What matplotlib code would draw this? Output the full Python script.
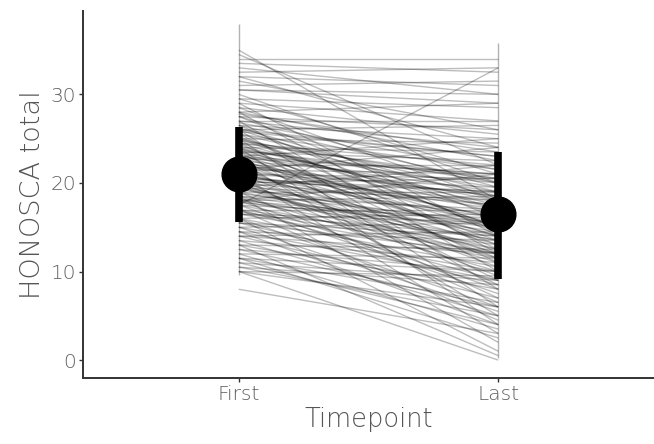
import matplotlib
matplotlib.use("Agg")
import matplotlib.pyplot as plt
import numpy as np

plt.rcParams['font.family'] = ['DejaVu Sans']

timepoints = ["First", "Last"]

first_scores = [
    35.0, 34.5, 34.0, 33.5, 33.0,
    32.5, 32.0, 31.5, 31.0, 30.5, 30.0, 32.0, 30.5,
    29.5, 29.5, 29.0, 29.0, 28.5, 28.5, 28.0, 28.0, 28.0, 27.5, 27.5, 27.5, 27.0, 27.0, 27.0,
    26.5, 26.5, 26.5, 26.0, 26.0, 26.0, 26.0, 25.5, 25.5, 25.5, 25.0, 25.0, 25.0, 25.0,
    24.5, 24.5, 24.5, 24.5, 24.0, 24.0, 24.0, 24.0,
    23.5, 23.5, 23.5, 23.5, 23.0, 23.0, 23.0, 23.0, 22.5, 22.5, 22.5, 22.5, 22.0, 22.0, 22.0, 22.0,
    21.5, 21.5, 21.5, 21.5, 21.0, 21.0, 21.0, 21.0, 21.0,
    20.5, 20.5, 20.5, 20.5, 20.0, 20.0, 20.0, 20.0, 19.5, 19.5, 19.5, 19.5, 19.0, 19.0, 19.0,
    18.5, 18.5, 18.5, 18.5, 18.0, 18.0, 18.0, 18.0, 17.5, 18.0,
    17.5, 17.5, 17.5, 17.0, 17.0, 17.0, 17.0, 16.5, 16.5, 16.5, 16.0, 16.0, 16.0, 16.0,
    15.5, 15.5, 15.5, 15.0, 15.0, 15.0,
    14.5, 14.5, 14.5, 14.0, 14.0, 14.0, 13.5, 13.5, 13.0, 13.0, 13.0, 12.5, 12.5, 12.0, 12.0,
    11.5, 11.5, 11.5, 11.0, 11.0, 10.5, 10.5, 10.0, 10.0, 10.0,
    8.0,
    26.8, 26.2, 25.8, 25.2, 24.8, 24.2, 23.8, 23.2, 22.8, 22.2,
    21.8, 21.2, 20.8, 20.2, 19.8, 19.2, 18.8, 18.2, 27.8, 23.6,
    22.6, 20.6, 19.6, 17.8, 16.8,
]

last_scores = [
    18.0, 22.0, 34.0, 32.5, 30.0,
    33.0, 31.0, 26.0, 31.5, 29.0, 20.0, 24.0, 30.0,
    28.5, 21.0, 27.0, 14.0, 25.5, 18.0, 29.0, 22.5, 12.0, 26.0, 19.5, 16.0, 24.0, 10.0, 27.0,
    25.0, 20.0, 14.5, 23.0, 17.0, 8.0, 26.5, 21.5, 19.0, 12.5, 24.5, 18.5, 15.0, 6.0,
    22.0, 20.5, 11.0, 16.5, 23.5, 17.5, 13.0, 4.0,
    22.5, 18.0, 15.0, 9.0, 21.0, 19.0, 13.5, 25.0, 20.0, 16.0, 11.5, 5.0, 22.0, 18.5, 14.0, 8.5,
    21.0, 17.0, 12.0, 24.0, 19.5, 15.5, 10.5, 3.0, 20.5,
    19.0, 16.0, 12.0, 7.0, 20.5, 17.5, 14.0, 9.5, 18.0, 15.0, 11.0, 22.0, 19.0, 13.5, 6.5,
    17.0, 14.5, 10.0, 2.0, 18.5, 15.5, 12.5, 8.0, 33.0, 21.0,
    16.0, 12.0, 7.5, 17.0, 13.0, 9.0, 4.5, 15.5, 11.5, 14.0, 16.5, 10.5, 6.0, 1.0,
    14.0, 12.0, 8.5, 15.5, 10.0, 5.5,
    13.5, 9.0, 4.0, 12.0, 7.0, 14.5, 11.0, 5.0, 12.5, 8.0, 0.5, 10.0, 6.0, 11.5, 3.5,
    10.0, 6.5, 2.5, 9.0, 4.0, 8.5, 5.0, 9.5, 6.0, 0.0,
    3.0,
    21.5, 18.0, 23.0, 15.0, 20.0, 17.0, 19.5, 14.5, 21.0, 16.0,
    18.5, 13.0, 17.5, 19.0, 12.5, 16.5, 15.5, 13.5, 23.5, 20.5,
    14.0, 18.0, 11.5, 15.0, 12.0,
]

# ungrouped vertical traces seen at each timepoint
first_span = [9.6, 38.0]
last_span = [0.2, 35.8]

# summary points (mean and interval)
summary_mean = [21.0, 16.5]
summary_low = [15.6, 9.2]
summary_high = [26.3, 23.5]

fig = plt.figure(figsize=(6.54, 4.44), dpi=100)
ax = fig.add_axes([0.127, 0.149, 0.873, 0.826])

xpos = np.arange(1, len(timepoints) + 1)
for f, l in zip(first_scores, last_scores):
    ax.plot(xpos, [f, l], color='black', alpha=0.26, lw=1.0, solid_capstyle='butt')

ax.vlines(xpos[0], first_span[0], first_span[1], color='black', alpha=0.3, lw=1.0)
ax.vlines(xpos[1], last_span[0], last_span[1], color='black', alpha=0.3, lw=1.0)

ax.vlines(xpos, summary_low, summary_high, color='black', lw=5.5)
ax.plot(xpos, summary_mean, 'o', color='black', markersize=25, zorder=5)

ax.set_xlim(0.4, 2.6)
ax.set_ylim(-2.0, 39.4)
ax.set_xticks(xpos)
ax.set_xticklabels(timepoints)
ax.set_yticks([0, 10, 20, 30])

for s in ['top', 'right']:
    ax.spines[s].set_visible(False)
for s in ['left', 'bottom']:
    ax.spines[s].set_linewidth(1.4)
    ax.spines[s].set_color('#333333')

ax.tick_params(axis='both', length=3, width=1.0, color='#333333',
               labelsize=14.5, labelcolor='#5e5e5e', pad=2)
for lab in ax.get_xticklabels() + ax.get_yticklabels():
    lab.set_fontweight('light')
ax.set_xlabel('Timepoint', fontsize=18.5, color='#555555', labelpad=2, fontweight='light')
ax.set_ylabel('HONOSCA total', fontsize=19.5, color='#555555', labelpad=4, fontweight='light')

fig.savefig('out.png', dpi=100)
